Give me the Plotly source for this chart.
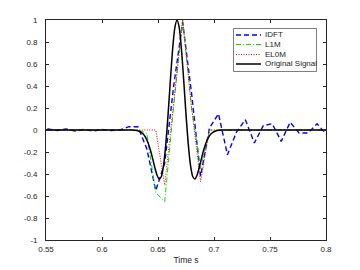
import plotly.graph_objects as go

# ---- data ----
t_grid = [0.544, 0.552, 0.560, 0.568, 0.576, 0.584, 0.592, 0.600, 0.608, 0.616,
          0.624, 0.632, 0.640, 0.648, 0.656, 0.664, 0.672, 0.680, 0.688, 0.696,
          0.704, 0.712, 0.720, 0.728, 0.736, 0.744, 0.752, 0.760, 0.768, 0.776,
          0.784, 0.792, 0.800]
idft = [0.01, 0.01, -0.005, 0.01, -0.01, 0.005, -0.01, 0.005, -0.005, 0.0,
        0.03, 0.03, -0.17, -0.55, -0.30, 0.40, 0.98, 0.33, -0.42, 0.02,
        0.148, -0.225, -0.02, 0.094, -0.118, 0.04, 0.057, -0.103, 0.07, -0.027,
        -0.027, 0.057, -0.036]
l1m = [0, 0, 0, 0, 0, 0, 0, 0, 0, 0,
       0, 0, -0.03, -0.57, -0.65, 0.22, 1.0, 0.2, -0.35, 0.0,
       0, 0, 0, 0, 0, 0, 0, 0, 0, 0,
       0, 0, 0]
el0m = [0, 0, 0, 0, 0, 0, 0, 0, 0, 0,
        0, 0, 0, 0.0, -0.5, 0.28, 1.0, 0.2, -0.47, 0.0,
        0, 0, 0, 0, 0, 0, 0, 0, 0, 0,
        0, 0, 0]

t_orig = [0.550, 0.627, 0.631, 0.633, 0.635, 0.637, 0.639, 0.641, 0.643, 0.645,
          0.647, 0.649, 0.651, 0.653, 0.655, 0.657, 0.659, 0.661, 0.663, 0.665,
          0.667, 0.669, 0.671, 0.673, 0.675, 0.677, 0.679, 0.681, 0.683, 0.685,
          0.687, 0.689, 0.691, 0.693, 0.695, 0.697, 0.699, 0.701, 0.703, 0.707,
          0.800]
orig = [0.0, -0.001, -0.005, -0.011, -0.021, -0.039, -0.069, -0.113, -0.175, -0.251,
        -0.334, -0.406, -0.445, -0.423, -0.320, -0.126, 0.142, 0.445, 0.727, 0.928,
        1.0, 0.928, 0.727, 0.445, 0.142, -0.126, -0.320, -0.423, -0.445, -0.406,
        -0.334, -0.251, -0.175, -0.113, -0.069, -0.039, -0.021, -0.011, -0.005, -0.001,
        0.0]

names = ["IDFT", "L1M", "EL0M", "Original Signal"]
x_ticks = [0.55, 0.6, 0.65, 0.7, 0.75, 0.8]
x_ticktext = ["0.55", "0.6", "0.65", "0.7", "0.75", "0.8"]
y_ticks = [-1, -0.8, -0.6, -0.4, -0.2, 0, 0.2, 0.4, 0.6, 0.8, 1]
y_ticktext = ["-1", "-0.8", "-0.6", "-0.4", "-0.2", "0", "0.2", "0.4", "0.6", "0.8", "1"]

# ---- styles ----
styles = [
    dict(color="#0000ff", width=1.4, dash="5px,3px"),
    dict(color="#00e000", width=1.0, dash="5px,2px,1px,2px"),
    dict(color="#ff0000", width=1.0, dash="1px,1.5px"),
    dict(color="#000000", width=1.5, dash="solid"),
]

fig = go.Figure()
series = [(t_grid, idft), (t_grid, l1m), (t_grid, el0m), (t_orig, orig)]
for (xs, ys), nm, st in zip(series, names, styles):
    line = dict(st)
    if nm == "Original Signal":
        line["shape"] = "spline"
        line["smoothing"] = 0.6
    fig.add_trace(go.Scatter(x=xs, y=ys, mode="lines", name=nm, line=line,
                             showlegend=False, cliponaxis=True))

# page has an 8px body margin: figure occupies page (8,8)-(360,270)
OFF = 8
W, H = 360 - OFF, 270 - OFF
# target plot area in page pixels
L, R, T, B = 46, 326, 20, 240
def px(x):
    return (x - L) / (R - L)
def py(y):
    return 1 - (y - T) / (B - T)

# ---- custom legend (MATLAB-like compact box) ----
shapes = [dict(type="rect", xref="paper", yref="paper",
               x0=px(233.5), x1=px(316.5), y0=py(28.5), y1=py(71.5),
               line=dict(color="#262626", width=0.6), fillcolor="white", layer="above")]
annotations = []
rows = [35, 44.5, 54.5, 64]
for nm, st, ry in zip(names, styles, rows):
    shapes.append(dict(type="line", xref="paper", yref="paper",
                       x0=px(236), x1=px(261), y0=py(ry), y1=py(ry),
                       line=dict(color=st["color"], width=st["width"], dash=st["dash"]),
                       layer="above"))
    annotations.append(dict(text=nm, xref="paper", yref="paper", x=px(263), y=py(ry),
                            xanchor="left", yanchor="middle", showarrow=False,
                            font=dict(size=8, color="#262626")))

axis_common = dict(showline=True, linecolor="#262626", linewidth=0.7, mirror="ticks",
                   ticks="inside", ticklen=3, tickwidth=0.7, tickcolor="#262626",
                   showgrid=False, zeroline=False, automargin=False,
                   tickfont=dict(size=8, color="#262626"))

fig.update_layout(
    width=W, height=H,
    margin=dict(l=L - OFF, r=W - (R - OFF), t=T - OFF, b=H - (B - OFF)),
    paper_bgcolor="white", plot_bgcolor="white",
    font=dict(family="Liberation Sans, Arial, sans-serif", size=8, color="#262626"),
    xaxis=dict(range=[0.55, 0.8], tickvals=x_ticks, ticktext=x_ticktext,
               title=dict(text="Time s", font=dict(size=8.5), standoff=3),
               ticklabelstandoff=2, **axis_common),
    yaxis=dict(range=[-1, 1], tickvals=y_ticks, ticktext=y_ticktext,
               ticklabelstandoff=6, **axis_common),
    shapes=shapes, annotations=annotations,
    showlegend=False,
)

fig.write_html("out.html")
